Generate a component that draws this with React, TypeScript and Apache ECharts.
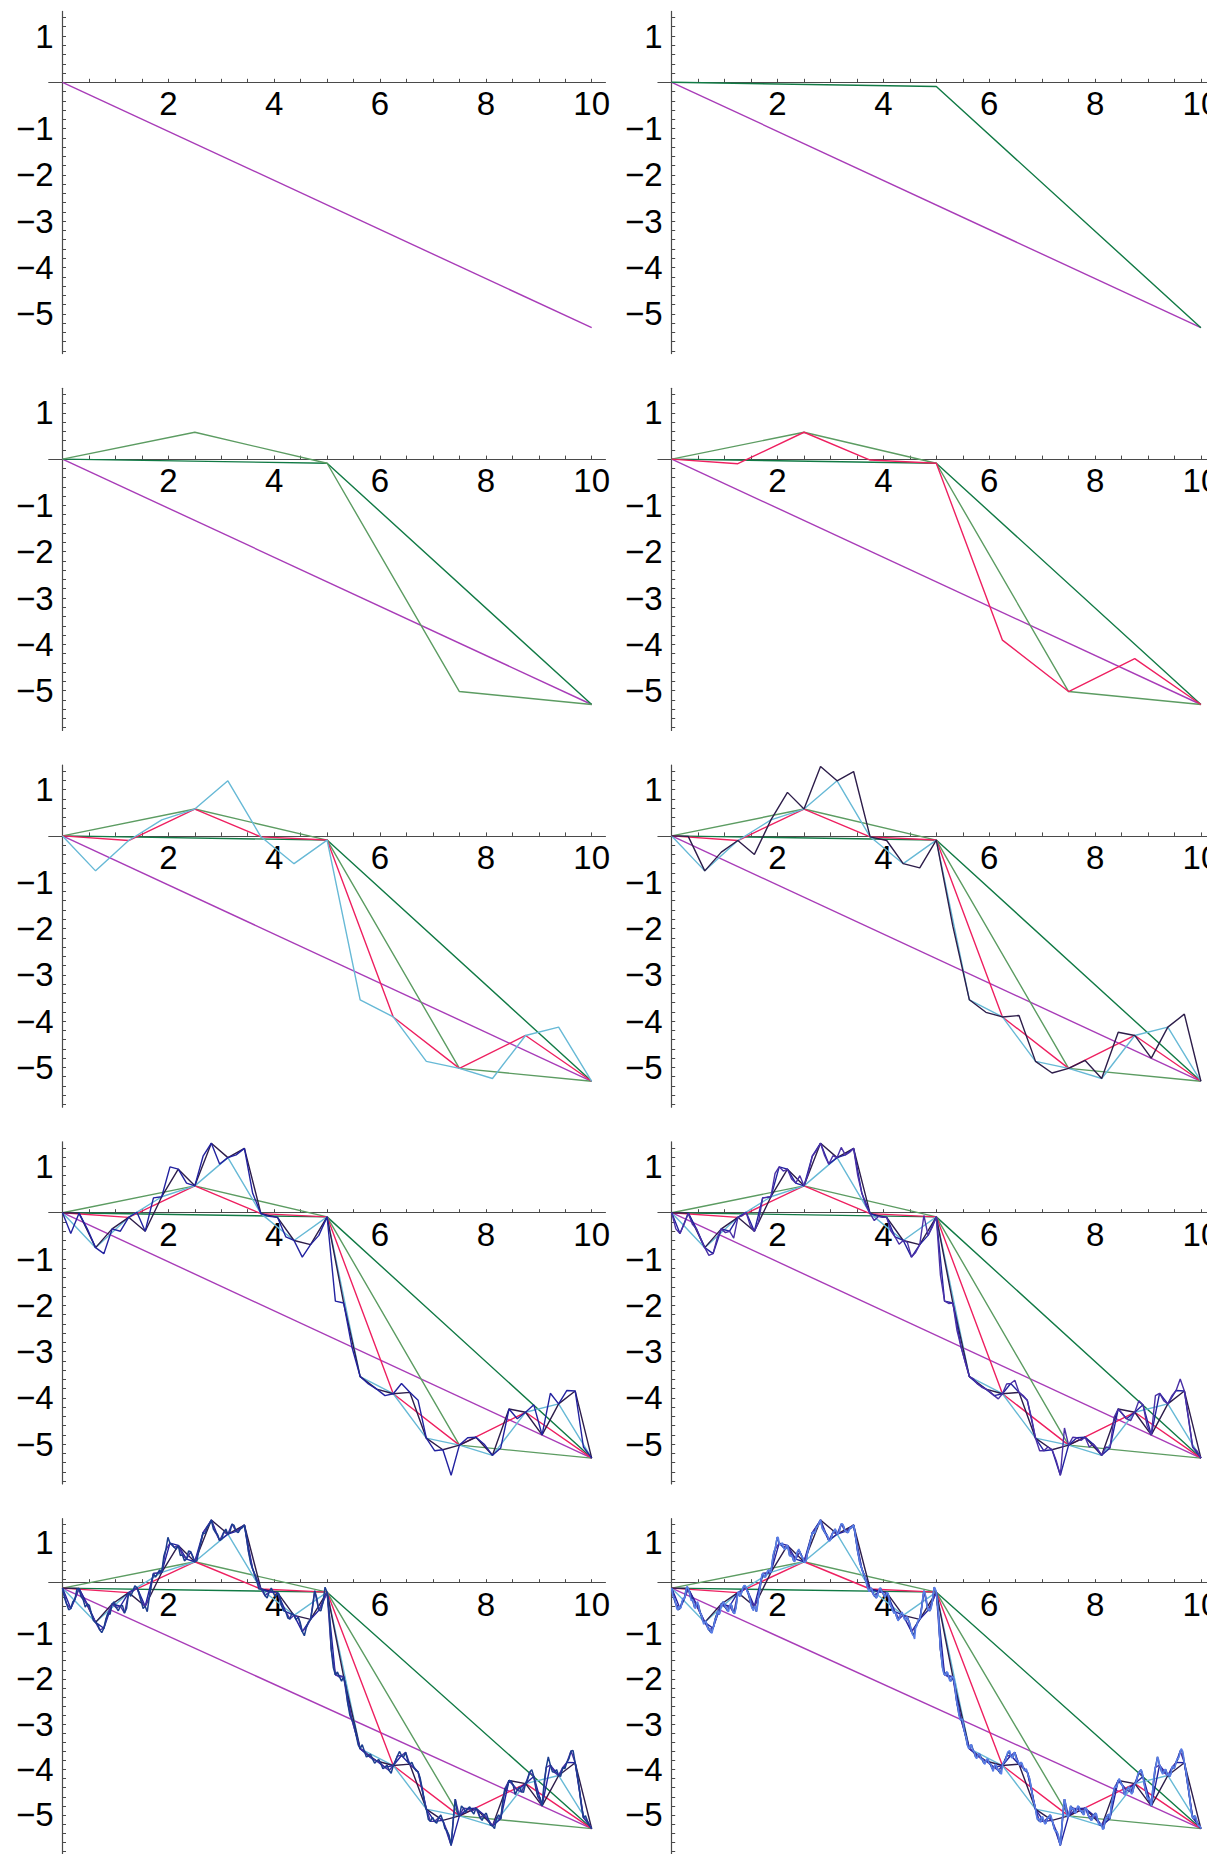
import React, { useEffect, useRef } from "react";
import * as echarts from "echarts";

// Brownian-bridge (Lévy) construction: endpoints, then the new midpoint values of each level
const ENDPOINTS = [0, -5.3];
const LEVEL1 = [-0.09];
const LEVEL2 = [0.58, -5.02];
const LEVEL3 = [-0.1, -0.02, -3.91, -4.31];
const LEVEL4 = [-0.755, 0.345, 1.19, -0.6, -3.54, -4.87, -5.24, -4.13];
const LEVEL5 = [-0.01, -0.35, -0.4, 0.94, 1.5, 1.39, -0.1, -0.69, -1.95, -3.81, -3.88, -5.12, -4.85, -4.24, -4.8, -3.85];
const LEVEL6 = [
  -0.45, -0.35, -0.885, -0.4, 0.01, 0.32, 0.99, 0.64, 1.22, 1.05, 1.25, 0.42, -0.08, -0.52, -0.96, -0.49,
  -1.91, -2.9, -3.7, -3.95, -3.69, -4.05, -5.14, -5.67, -4.86, -5.0, -5.08, -4.45, -4.15, -3.9, -3.84, -5.06,
];
const LEVEL7 = [
  -0.35, -0.25, -0.25, -0.57, -0.92, -0.55, -0.43, -0.55, -0.07, -0.28, -0.2, 0.33, 0.85, 0.9, 0.73, 0.8,
  0.84, 1.34, 1.23, 1.23, 1.41, 1.3, 0.8, 0.15, -0.17, -0.1, -0.39, -0.68, -0.64, -0.86, -0.06, -0.32,
  -1.35, -1.96, -2.54, -3.23, -3.59, -3.77, -3.87, -4.02, -3.7, -3.62, -3.95, -4.42, -5.14, -5.06, -5.35, -4.65,
  -4.85, -4.92, -5.06, -5.1, -5.06, -4.42, -4.34, -4.49, -4.06, -4.6, -3.95, -4.06, -3.95, -3.59, -4.42, -5.14,
];
const LEVEL8 = [
  -0.22, -0.48, -0.3, -0.02, -0.19, -0.42, -0.38, -0.72, -0.8, -0.98, -0.68, -0.58, -0.3, -0.5, -0.38, -0.45,
  -0.18, 0.05, -0.1, -0.45, -0.52, 0.12, 0.24, 0.4, 0.7, 1.12, 0.96, 0.86, 0.72, 0.6, 0.82, 0.7,
  0.6, 1.02, 1.2, 1.4, 1.3, 1.18, 1.08, 1.3, 1.24, 1.38, 1.22, 1.33, 1.12, 0.55, 0.3, -0.02,
  -0.05, -0.22, 0.0, -0.2, -0.18, -0.5, -0.66, -0.55, -0.7, -0.76, -1.05, -0.74, -0.42, -0.22, -0.5, 0.02,
  -0.55, -1.75, -1.85, -2.05, -2.15, -2.8, -2.98, -3.45, -3.45, -3.72, -3.66, -3.86, -3.78, -3.98, -3.9, -4.08,
  -3.82, -3.6, -3.72, -3.8, -3.84, -4.02, -4.18, -4.7, -5.1, -5.05, -5.18, -5.0, -5.3, -5.45, -5.1, -4.95,
  -4.8, -4.95, -4.82, -4.98, -4.9, -5.12, -4.96, -5.22, -5.3, -5.0, -4.7, -4.4, -4.25, -4.55, -4.38, -4.5,
  -4.22, -4.0, -4.42, -4.62, -4.28, -3.72, -4.05, -4.0, -4.15, -3.98, -3.76, -3.58, -4.1, -4.8, -5.02, -5.25,
];
const LEVEL9 = [
  -0.15, -0.24, -0.46, -0.4, -0.43, -0.22, -0.18, 0.04, -0.06, -0.28, -0.3, -0.45, -0.3, -0.52, -0.6, -0.8,
  -0.72, -0.9, -0.88, -0.99, -0.82, -0.66, -0.5, -0.52, -0.38, -0.33, -0.42, -0.52, -0.34, -0.5, -0.56, -0.3,
  -0.08, -0.15, 0.02, 0.06, -0.08, -0.16, -0.4, -0.5, -0.42, -0.4, -0.06, 0.26, 0.31, 0.25, 0.39, 0.35,
  0.52, 0.82, 0.96, 1.12, 0.95, 1.0, 0.85, 0.93, 0.85, 0.7, 0.68, 0.58, 0.76, 0.86, 0.72, 0.66,
  0.56, 0.74, 0.92, 1.1, 1.24, 1.25, 1.35, 1.47, 1.38, 1.29, 1.18, 1.14, 1.04, 1.17, 1.24, 1.27,
  1.2, 1.34, 1.42, 1.3, 1.26, 1.23, 1.34, 1.36, 1.28, 0.98, 0.7, 0.5, 0.34, 0.25, 0.04, -0.08,
  0.01, -0.14, -0.16, -0.18, -0.01, -0.08, -0.12, -0.18, -0.1, -0.3, -0.42, -0.56, -0.57, -0.72, -0.6, -0.53,
  -0.68, -0.64, -0.72, -0.84, -1.02, -1.12, -0.84, -0.68, -0.58, -0.2, -0.1, -0.38, -0.45, -0.44, -0.12, -0.02,
  -0.3, -0.98, -1.52, -1.86, -1.92, -1.86, -2.04, -1.96, -2.0, -2.38, -2.62, -2.9, -2.88, -3.14, -3.3, -3.52,
  -3.46, -3.56, -3.62, -3.76, -3.64, -3.76, -3.78, -3.88, -3.76, -3.86, -3.88, -4.04, -3.88, -3.99, -4.0, -4.1,
  -3.84, -3.8, -3.62, -3.58, -3.74, -3.64, -3.74, -3.8, -3.9, -3.86, -4.02, -3.98, -4.14, -4.28, -4.58, -4.76,
  -5.02, -5.08, -5.16, -5.04, -5.2, -5.1, -5.06, -5.02, -5.18, -5.36, -5.38, -5.58, -5.42, -4.82, -4.74, -5.06,
  -4.9, -4.88, -4.86, -4.96, -4.8, -4.9, -4.9, -5.0, -4.84, -5.0, -5.06, -5.1, -5.02, -4.98, -5.2, -5.18,
  -5.32, -5.16, -5.06, -4.98, -4.86, -4.6, -4.36, -4.34, -4.2, -4.32, -4.42, -4.56, -4.44, -4.4, -4.54, -4.38,
  -4.3, -4.1, -4.06, -4.04, -4.3, -4.48, -4.66, -4.68, -4.58, -4.06, -3.88, -3.78, -3.94, -4.1, -4.0, -4.1,
  -4.08, -4.1, -3.92, -3.94, -3.76, -3.7, -3.54, -3.68, -3.96, -4.3, -4.58, -4.96, -5.08, -5.04, -5.22, -5.24,
];
const LEVELS = [LEVEL1, LEVEL2, LEVEL3, LEVEL4, LEVEL5, LEVEL6, LEVEL7, LEVEL8, LEVEL9];

const X_START = 0;
const X_END = 10;
const X_LABELS = [2, 4, 6, 8, 10];
const Y_LABELS = [-5, -4, -3, -2, -1, 1];

const COLORS = [
  "#a83cb8", "#117a45", "#5c9c62", "#ee2060", "#67b9d6",
  "#2d1d4a", "#2222a0", "#4a30a6", "#1b3d8f", "#5a7de6",
];
const WIDTHS = [1.4, 1.4, 1.4, 1.4, 1.4, 1.4, 1.4, 1.4, 1.5, 1.6];

const FONT = '"Liberation Sans", Arial, Helvetica, sans-serif';

function buildPaths(): number[][] {
  const paths: number[][] = [ENDPOINTS.slice()];
  for (const lv of LEVELS) {
    const prev = paths[paths.length - 1];
    const next: number[] = [];
    for (let i = 0; i < prev.length - 1; i++) {
      next.push(prev[i], lv[i]);
    }
    next.push(prev[prev.length - 1]);
    paths.push(next);
  }
  return paths;
}

export default function App() {
  const ref = useRef<HTMLDivElement>(null);
  useEffect(() => {
    document.body.style.margin = "0";
    const chart = echarts.init(ref.current!, null, { renderer: "svg" });

    const paths = buildPaths();
    const pathData = paths.map((p) =>
      p.map((y, i) => [X_START + ((X_END - X_START) * i) / (p.length - 1), y])
    );

    const XMIN = -0.26, XMAX = 10.26, YMIN = -5.86, YMAX = 1.53;
    const SX = 52.92, SY = 46.3;
    const xTicks: number[] = [];
    for (let k = 1; k <= 20; k++) xTicks.push(k * 0.5);
    const yTicks: number[] = [];
    for (let k = -29; k <= 7; k++) if (k !== 0) yTicks.push(Math.round(k * 2) / 10);

    const grids: any[] = [], xAxes: any[] = [], yAxes: any[] = [], series: any[] = [];
    const axisColor = "#4a4a4a";
    for (let p = 0; p < 10; p++) {
      const r = Math.floor(p / 2), c = p % 2;
      const yAxisX = c === 0 ? 62.5 : 671.7;
      const xAxisY = 82.3 + 376.8 * r;
      grids.push({
        left: yAxisX + XMIN * SX,
        top: xAxisY - YMAX * SY,
        width: (XMAX - XMIN) * SX,
        height: (YMAX - YMIN) * SY,
        containLabel: false,
      });
      xAxes.push({
        gridIndex: p, type: "value", min: XMIN, max: XMAX,
        position: "bottom",
        offset: YMIN * SY,
        axisLine: { show: true, onZero: false, lineStyle: { color: axisColor, width: 1.2 } },
        axisTick: { show: true, inside: true, length: 3.5, customValues: xTicks, lineStyle: { color: axisColor, width: 1 } },
        axisLabel: { show: true, customValues: X_LABELS, fontSize: 33, color: "#000", margin: 5, fontFamily: FONT },
        splitLine: { show: false },
      });
      yAxes.push({
        gridIndex: p, type: "value", min: YMIN, max: YMAX,
        position: "left",
        offset: XMIN * SX,
        axisLine: { show: true, onZero: false, lineStyle: { color: axisColor, width: 1.2 } },
        axisTick: { show: true, inside: true, length: 3.5, customValues: yTicks, lineStyle: { color: axisColor, width: 1 } },
        axisLabel: {
          show: true, customValues: Y_LABELS, fontSize: 33, color: "#000", margin: 9, fontFamily: FONT,
          formatter: (v: number) => (v < 0 ? "\u2212" + Math.abs(v) : String(v)),
        },
        splitLine: { show: false },
      });
      for (let L = 0; L <= p; L++) {
        series.push({
          type: "line", xAxisIndex: p, yAxisIndex: p,
          data: pathData[L], symbol: "none", showSymbol: false, silent: true,
          lineStyle: { color: COLORS[L], width: WIDTHS[L] },
          emphasis: { disabled: true },
        });
      }
    }

    chart.setOption({
      animation: false,
      backgroundColor: "#ffffff",
      grid: grids,
      xAxis: xAxes,
      yAxis: yAxes,
      series,
    });
    return () => chart.dispose();
  }, []);
  return (
    <div style={{ position: "absolute", left: 0, top: 0, width: 1207, height: 1854, overflow: "hidden", background: "#fff" }}>
      <div ref={ref} style={{ width: 1224, height: 1854 }} />
    </div>
  );
}
